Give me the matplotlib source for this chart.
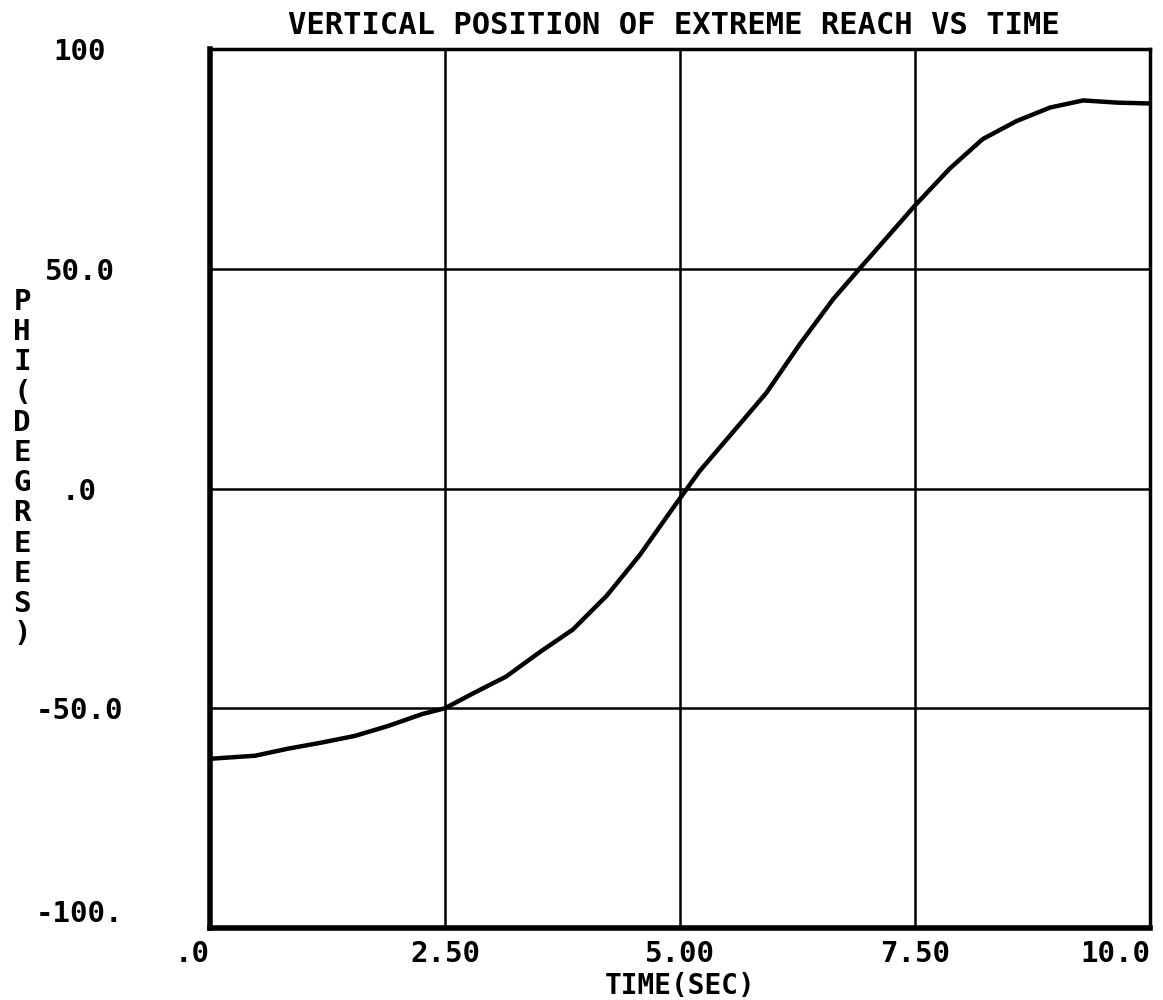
import numpy as np
import matplotlib
matplotlib.use("Agg")
import matplotlib.pyplot as plt

# curve
time_sec = [0.0, 0.48, 0.83, 1.19, 1.54, 1.90, 2.26, 2.5, 2.80, 3.15, 3.51, 3.86,
            4.22, 4.57, 4.93, 5.21, 5.57, 5.92, 6.28, 6.63, 6.91, 7.5, 7.87, 8.22,
            8.58, 8.94, 9.29, 9.65, 10.0]
phi_deg = [-61.5, -60.8, -59.2, -57.8, -56.3, -54.0, -51.3, -50.0, -46.6, -42.8,
           -37.2, -32.1, -24.4, -15.2, -4.3, 4.0, 13.0, 21.8, 33.0, 43.1, 50.0,
           64.4, 72.8, 79.5, 83.6, 86.7, 88.3, 87.8, 87.6]

x_ticks = [0, 2.5, 5.0, 7.5, 10.0]
x_ticklabels = [".0", "2.50", "5.00", "7.50", "10.0"]
y_ticks = [-100, -50, 0, 50, 100]
y_ticklabels = ["-100.", "-50.0", ".0", "50.0", "100"]

plt.rcParams['font.family'] = ['DejaVu Sans Mono']
plt.rcParams['font.weight'] = 'bold'
fs = 21

fig = plt.figure(figsize=(11.63, 10), dpi=100)
ax = fig.add_axes([210 / 1163, 1 - 928 / 1000, (1150 - 210) / 1163, (928 - 49) / 1000])

ax.plot(time_sec, phi_deg, color='black', linewidth=3.2,
        solid_capstyle='round', solid_joinstyle='round')

ax.set_xlim(0, 10)
ax.set_ylim(-100, 100)
ax.set_xticks(x_ticks)
ax.set_xticklabels(x_ticklabels, fontsize=fs)
ax.set_yticks(y_ticks)
ax.set_yticklabels(y_ticklabels, fontsize=fs)
ax.tick_params(axis='both', length=0)
ax.tick_params(axis='x', pad=9)
ax.tick_params(axis='y', pad=94)
for lab in ax.get_yticklabels():
    lab.set_ha('center')
ax.get_yticklabels()[0].set_va('bottom')
xl = ax.get_xticklabels()
xl[0].set_ha('right')
xl[-1].set_ha('right')

ax.grid(True, color='black', linewidth=1.8)
for side in ['left', 'bottom']:
    ax.spines[side].set_linewidth(4)
for side in ['right', 'top']:
    ax.spines[side].set_linewidth(2.5)

fig.text(674 / 1163, 1 - 26 / 1000, "VERTICAL POSITION OF EXTREME REACH VS TIME",
         ha='center', va='center', fontsize=fs + 1)
fig.text(680 / 1163, 1 - 986 / 1000, "TIME(SEC)", ha='center', va='center', fontsize=fs - 1)
fig.text(22 / 1163, 1 - 468 / 1000, "\n".join("PHI(DEGREES)"), ha='center', va='center',
         fontsize=fs, linespacing=1.1)

fig.savefig("out.png", dpi=100, facecolor='white')
